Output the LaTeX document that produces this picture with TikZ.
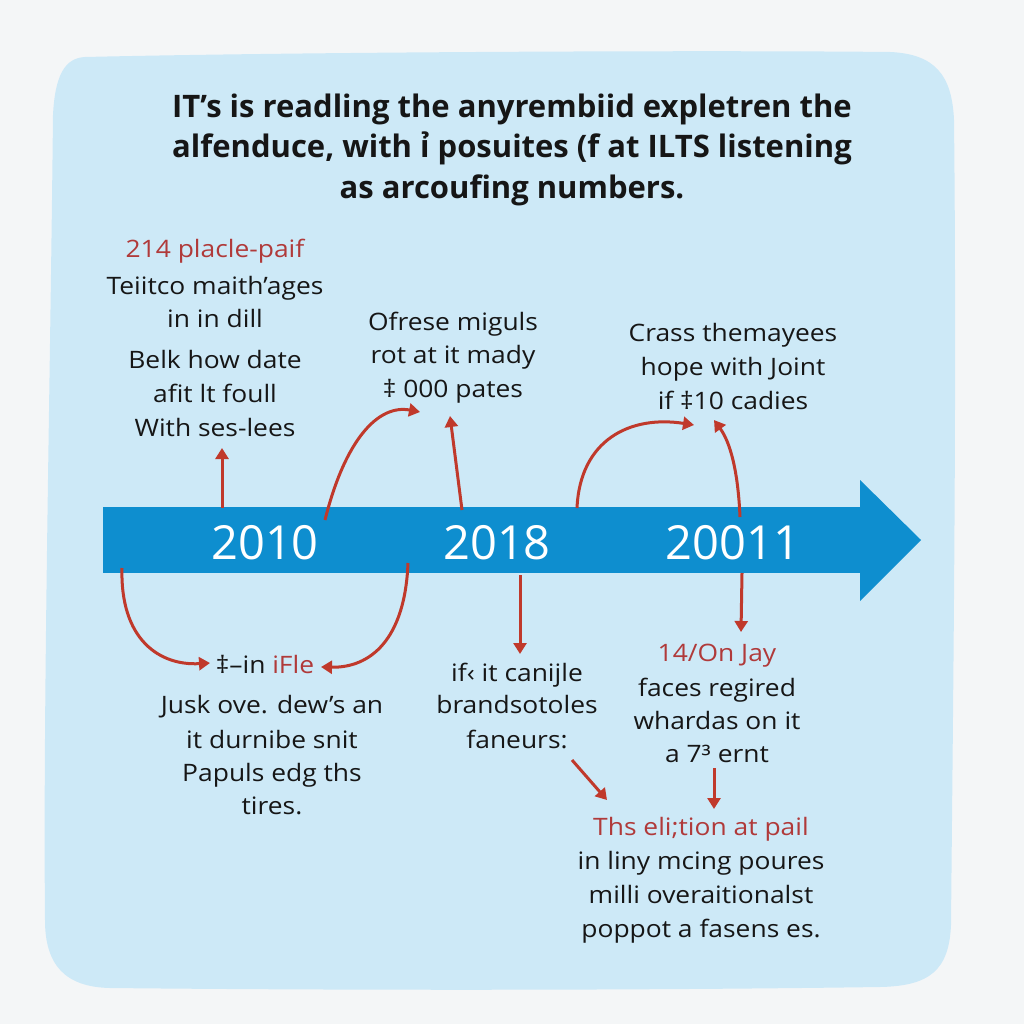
\documentclass[tikz,border=0pt]{standalone}
\usepackage{fontspec}
\setmainfont{Open Sans}[FakeStretch=1.1]
\newfontfamily\titlefont{Open Sans}
\newfontfamily\yearfont{Open Sans}
\usetikzlibrary{arrows.meta}
\definecolor{pagebg}{HTML}{F4F6F7}
\definecolor{blobbg}{HTML}{CDE9F7}
\definecolor{bandblue}{HTML}{0E8ECF}
\definecolor{arrred}{HTML}{C0392B}
\definecolor{txtred}{HTML}{B03A3A}
\definecolor{txtdark}{HTML}{161616}
\tikzset{
  ttl/.style={anchor=base, inner sep=0pt, text=txtdark, font=\titlefont\bfseries\fontsize{31}{40}\selectfont},
  body/.style={anchor=base, inner sep=0pt, text=txtdark, font=\fontsize{24}{33}\selectfont},
  redbody/.style={body, text=txtred},
  year/.style={anchor=base, inner sep=0pt, text=white, font=\yearfont\fontsize{47}{50}\selectfont},
  conn/.style={draw=arrred, line width=3pt, -{Triangle[length=11pt,width=13pt]}}
}
\newcommand\lineat[4]{\node[#1] (#2) at (#3) {#4};}
\begin{document}
\begin{tikzpicture}[x=1pt,y=-1pt]
\useasboundingbox (0,0) rectangle (1024,1024);
\fill[pagebg] (0,0) rectangle (1024,1024);
% blob
\fill[blobbg] (85,57) .. controls (300,52) and (700,50) .. (890,52)
  .. controls (935,54) and (952,75) .. (954,120)
  .. controls (957,400) and (953,700) .. (951,925)
  .. controls (949,970) and (930,986) .. (880,987)
  .. controls (600,991) and (300,990) .. (110,988)
  .. controls (65,987) and (45,965) .. (45,920)
  .. controls (43,700) and (50,400) .. (53,115)
  .. controls (55,75) and (65,58) .. (85,57) -- cycle;
% title
\lineat{ttl}{t1}{512,118}{IT’s is readling the anyrembiid expletren the}
\lineat{ttl}{t2}{512,158}{alfenduce, with ỉ posuites (f at ILTS listening}
\lineat{ttl}{t3}{512,199}{as arcoufing numbers.}
% timeline
\fill[bandblue] (103,507) rectangle (862,573);
\fill[bandblue] (860,480) -- (921,540) -- (860,601) -- cycle;
\node[inner sep=0pt] (band) at (480,540) {};
\lineat{year}{y1}{265,559}{2010}
\lineat{year}{y2}{497,559}{2018}
\lineat{year}{y3}{733,559}{20011}
% top-left group
\lineat{redbody}{a0}{215,258}{214 placle-paif}
\lineat{body}{a1}{215,294}{Teiitco maith’ages}
\lineat{body}{a2}{215,327}{in in dill}
\lineat{body}{a3}{215,368}{Belk how date}
\lineat{body}{a4}{215,402}{afit lt foull}
\lineat{body}{a5}{215,436}{With ses-lees}
% top-middle
\lineat{body}{b1}{453,330}{Ofrese miguls}
\lineat{body}{b2}{453,363}{rot at it mady}
\lineat{body}{b3}{453,397}{‡ 000 pates}
% top-right
\lineat{body}{c1}{733,341}{Crass themayees}
\lineat{body}{c2}{733,375}{hope with Joint}
\lineat{body}{c3}{733,409}{if ‡10 cadies}
% bottom-left
\node[body] (d0) at (265,673) {‡–in \textcolor{txtred}{iFle}};
\lineat{body}{d1}{272,713}{Jusk ove. dew’s an}
\lineat{body}{d2}{272,748}{it durnibe snit}
\lineat{body}{d3}{272,781}{Papuls edg ths}
\lineat{body}{d4}{272,814}{tires.}
% bottom-middle
\lineat{body}{e1}{517,681}{if‹ it canijle}
\lineat{body}{e2}{517,713}{brandsotoles}
\lineat{body}{e3}{517,748}{faneurs:}
% bottom-right
\lineat{redbody}{f0}{717,661}{14/On Jay}
\lineat{body}{f1}{717,696}{faces regired}
\lineat{body}{f2}{717,729}{whardas on it}
\lineat{body}{f3}{717,762}{a 7³ ernt}
% bottom-bottom
\lineat{redbody}{g0}{701,835}{Ths eli;tion at pail}
\lineat{body}{g1}{701,869}{in liny mcing poures}
\lineat{body}{g2}{701,903}{milli overaitionalst}
\lineat{body}{g3}{701,937}{poppot a fasens es.}
% connector end points
\coordinate (p1s) at (222,508); \coordinate (p1e) at (222,448);
\coordinate (p2s) at (325,520); \coordinate (p2e) at (420,412);
\coordinate (p3s) at (462,510); \coordinate (p3e) at (450,416);
\coordinate (p4s) at (577,508); \coordinate (p4e) at (694,425);
\coordinate (p5s) at (740,517); \coordinate (p5e) at (714,420);
\coordinate (p6s) at (122,568); \coordinate (p6e) at (210,663);
\coordinate (p7s) at (408,563); \coordinate (p7e) at (321,667);
\coordinate (p8s) at (520,575); \coordinate (p8e) at (520,654);
\coordinate (p9s) at (742,573); \coordinate (p9e) at (741,632);
\coordinate (p10s) at (572,760); \coordinate (p10e) at (607,800);
\coordinate (p11s) at (714,768); \coordinate (p11e) at (714,809);
\draw[conn] (p1s) -- (p1e);
\draw[conn] (p2s) .. controls (345,440) and (378,404) .. (p2e);
\draw[conn] (p3s) -- (p3e);
\draw[conn] (p4s) .. controls (580,440) and (630,415) .. (p4e);
\draw[conn] (p5s) .. controls (738,470) and (730,442) .. (p5e);
\draw[conn] (p6s) .. controls (120,640) and (160,666) .. (p6e);
\draw[conn] (p7s) .. controls (405,640) and (370,668) .. (p7e);
\draw[conn] (p8s) -- (p8e);
\draw[conn] (p9s) -- (p9e);
\draw[conn] (p10s) -- (p10e);
\draw[conn] (p11s) -- (p11e);
\end{tikzpicture}
\end{document}
